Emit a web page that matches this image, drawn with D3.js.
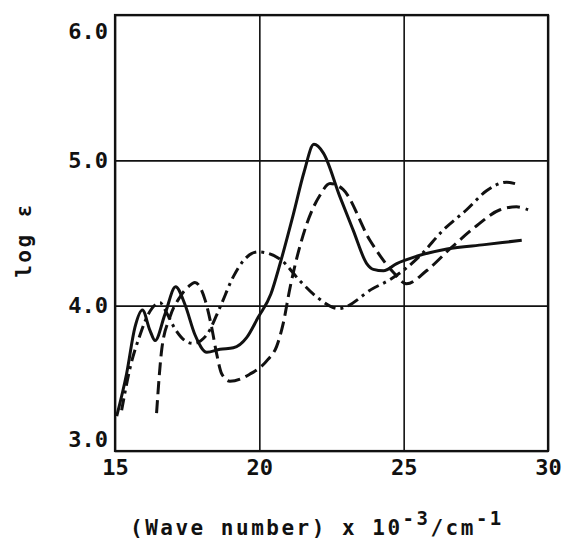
<!DOCTYPE html>
<html>
<head>
<meta charset="utf-8">
<script src="https://cdn.jsdelivr.net/npm/d3@7.9.0/dist/d3.min.js"></script>
<style>
  body { margin: 0; background: #fff; }
  svg { display: block; }
  .tick text { font-family: "DejaVu Sans Mono", monospace; font-weight: bold; font-size: 22px; fill: #111; }
  .title { font-family: "DejaVu Sans Mono", monospace; font-weight: bold; font-size: 21px; fill: #111; letter-spacing: 2.5px; }
</style>
</head>
<body>
<svg id="chart" width="562" height="547"></svg>
<script>
// solid line
const solidX = [15.06, 15.4, 15.69, 15.95, 16.21, 16.39, 16.73, 17.1, 17.42, 17.77, 18.18, 18.64, 19.1, 19.56, 19.96, 20.4, 20.72, 21.18, 21.55, 21.89, 22.22, 22.79, 23.25, 23.72, 23.95, 24.3, 24.76, 25.45, 26.5, 27.8, 29.09];
const solidY = [3.24, 3.53, 3.85, 3.97, 3.83, 3.76, 3.94, 4.13, 4.01, 3.80, 3.68, 3.70, 3.71, 3.78, 3.92, 4.08, 4.29, 4.63, 4.92, 5.11, 5.05, 4.75, 4.52, 4.29, 4.25, 4.24, 4.29, 4.34, 4.39, 4.42, 4.45];

// dashed line
const dashX = [16.44, 16.62, 16.9, 17.25, 17.54, 17.77, 18.12, 18.35, 18.52, 18.7, 18.98, 19.68, 20.3, 20.6, 20.83, 21.06, 21.64, 22.1, 22.45, 22.9, 23.83, 24.64, 25.1, 25.79, 26.6, 27.53, 28.34, 28.91, 29.31];
const dashY = [3.26, 3.70, 3.92, 4.06, 4.13, 4.16, 4.04, 3.85, 3.67, 3.53, 3.48, 3.53, 3.63, 3.72, 3.88, 4.12, 4.56, 4.76, 4.84, 4.80, 4.45, 4.23, 4.15, 4.24, 4.39, 4.55, 4.66, 4.68, 4.66];

// dash-dot line
const dotX = [15.23, 15.52, 15.87, 16.15, 16.56, 16.79, 17.08, 17.42, 17.71, 18.18, 18.64, 19.1, 19.45, 19.96, 20.72, 21.41, 21.99, 22.75, 23.95, 24.53, 25.1, 25.6, 26.37, 27.18, 27.87, 28.57, 28.86];
const dotY = [3.28, 3.57, 3.80, 3.94, 4.02, 3.95, 3.84, 3.76, 3.74, 3.80, 3.99, 4.20, 4.31, 4.37, 4.32, 4.17, 4.06, 3.98, 4.12, 4.18, 4.26, 4.35, 4.52, 4.66, 4.79, 4.85, 4.84];

const xTicks = [15, 20, 25, 30];
const yTicks = [3, 4, 5, 6];

const margin = { top: 15, right: 14, bottom: 96, left: 115 };
const width = 562, height = 547;
const w = width - margin.left - margin.right;
const h = height - margin.top - margin.bottom;

const svg = d3.select('#chart');
const g = svg.append('g').attr('transform', `translate(${margin.left},${margin.top})`);

const x = d3.scaleLinear().domain([15, 30]).range([0, w]);
const y = d3.scaleLinear().domain([3, 6]).range([h, 0]);

// grid + ticks
const xAxis = g.append('g')
  .attr('transform', `translate(0,${h})`)
  .call(d3.axisBottom(x).tickValues(xTicks).tickSize(-h).tickPadding(8).tickFormat(d3.format('d')));
const yAxis = g.append('g')
  .call(d3.axisLeft(y).tickValues(yTicks).tickSize(-w).tickPadding(7).tickFormat(d3.format('.1f')));

[xAxis, yAxis].forEach(a => {
  a.select('.domain').remove();
  a.selectAll('.tick line').attr('stroke', '#111').attr('stroke-width', 1.6);
});
// top and bottom y labels sit inside the frame
yAxis.selectAll('.tick text')
  .attr('dy', d => d === 6 ? '1.05em' : d === 3 ? '-0.2em' : '0.32em');

// frame
g.append('rect')
  .attr('width', w).attr('height', h)
  .attr('fill', 'none').attr('stroke', '#111').attr('stroke-width', 2.2);

const line = d3.line()
  .x(d => x(d[0]))
  .y(d => y(d[1]))
  .curve(d3.curveMonotoneX);

const series = [
  { xs: solidX, ys: solidY, dash: null },
  { xs: dashX, ys: dashY, dash: '13,6' },
  { xs: dotX, ys: dotY, dash: '12,5,3,5' }
];

series.forEach(s => {
  g.append('path')
    .datum(s.xs.map((v, i) => [v, s.ys[i]]))
    .attr('d', line)
    .attr('fill', 'none')
    .attr('stroke', '#111')
    .attr('stroke-width', 3)
    .attr('stroke-linecap', 'butt')
    .attr('stroke-dasharray', s.dash);
});

// axis titles
svg.append('text')
  .attr('class', 'title')
  .attr('transform', 'translate(31,240) rotate(-90)')
  .attr('text-anchor', 'middle')
  .text('log ε');

const xt = svg.append('text')
  .attr('class', 'title')
  .attr('x', 130).attr('y', 535);
xt.append('tspan').text('(Wave number) x 10');
xt.append('tspan').attr('dy', -10).attr('font-size', 19).text('-3');
xt.append('tspan').attr('dy', 10).text('/cm');
xt.append('tspan').attr('dy', -10).attr('font-size', 19).text('-1');
</script>
</body>
</html>
